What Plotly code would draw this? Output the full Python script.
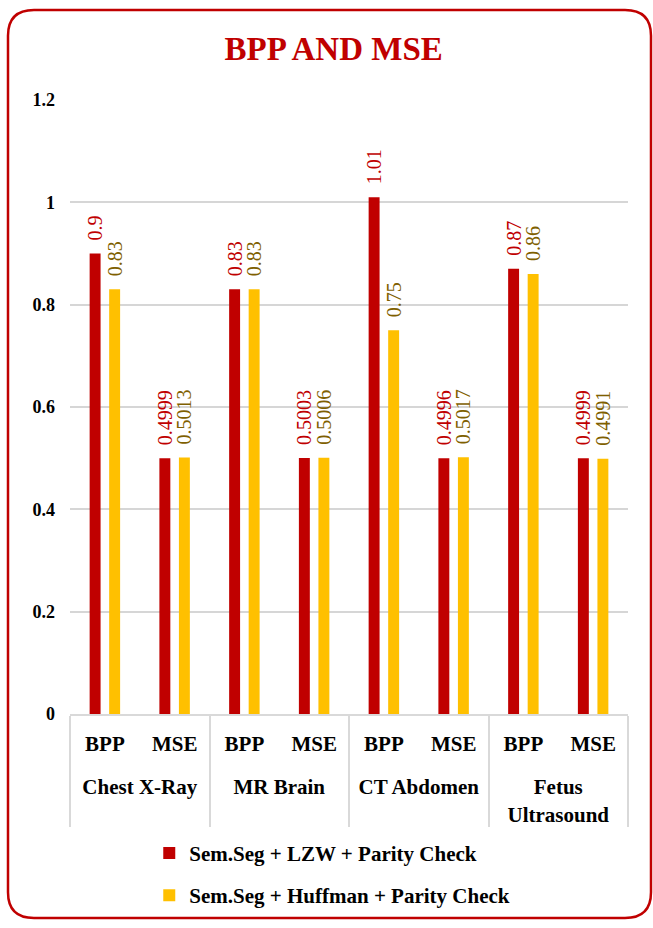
import plotly.graph_objects as go

# Grouped categories: imaging modality -> metric
modalities = ["Chest X-Ray", "MR Brain", "CT Abdomen", "Fetus<br>Ultrasound"]
metrics = ["BPP", "MSE"]

lzw_values = [0.9, 0.4999, 0.83, 0.5003, 1.01, 0.4996, 0.87, 0.4999]
huffman_values = [0.83, 0.5013, 0.83, 0.5006, 0.75, 0.5017, 0.86, 0.4991]

series_names = ["Sem.Seg + LZW + Parity Check", "Sem.Seg + Huffman + Parity Check"]

y_ticks = [0, 0.2, 0.4, 0.6, 0.8, 1, 1.2]
y_tick_text = ["0", "0.2", "0.4", "0.6", "0.8", "1", "1.2"]

FONT = "Liberation Serif"
RED = "#C00000"
GOLD = "#FFC000"
RED_LABEL = "#C00000"
GOLD_LABEL = "#7F6000"
NBSP = "\u00a0"

# leading blank line pushes the group names one row below the metric names
x_outer = ["<br>" + f"<b>{m}</b>" for m in modalities for _ in metrics]
x_inner = [f"<b>{k}</b>" for _ in modalities for k in metrics]

fig = go.Figure()
for name, vals, color, lcolor in [
    (series_names[0], lzw_values, RED, RED_LABEL),
    (series_names[1], huffman_values, GOLD, GOLD_LABEL),
]:
    fig.add_trace(go.Bar(
        x=[x_outer, x_inner],
        y=vals,
        name=f"<b>{name}</b>",
        legendgroup=name,
        marker=dict(color=color, line=dict(width=0)),
        text=[NBSP * 2 + str(v) for v in vals],
        textposition="outside",
        textangle=-90,
        constraintext="none",
        cliponaxis=False,
        textfont=dict(family=FONT, size=20, color=lcolor),
    ))

# Rounded frame around the whole chart (paper coords relative to plot area)
W, H = 653, 928
L, R, T, B = 70, 25, 100, 208
pw, ph = W - L - R, H - T - B


def px(x):
    return (x - L) / pw


def py(y):
    return (H - B - y) / ph


x0, x1, y0, y1, rad = 8, 651, 9, 926, 26
frame = (
    f"M {px(x0 + rad)},{py(y0)} L {px(x1 - rad)},{py(y0)} "
    f"Q {px(x1)},{py(y0)} {px(x1)},{py(y0 + rad)} "
    f"L {px(x1)},{py(y1 - rad)} Q {px(x1)},{py(y1)} {px(x1 - rad)},{py(y1)} "
    f"L {px(x0 + rad)},{py(y1)} Q {px(x0)},{py(y1)} {px(x0)},{py(y1 - rad)} "
    f"L {px(x0)},{py(y0 + rad)} Q {px(x0)},{py(y0)} {px(x0 + rad)},{py(y0)} Z"
)
fig.add_shape(type="path", path=frame, xref="paper", yref="paper",
              line=dict(color="#C00000", width=2.5), layer="above")

fig.update_layout(
    width=W, height=H,
    margin=dict(l=L, r=R, t=T, b=B, pad=0),
    paper_bgcolor="white", plot_bgcolor="white",
    barmode="group", bargap=0.44, bargroupgap=0.44,
    title=dict(text="<b>BPP AND MSE</b>", x=0.511, xanchor="center",
               y=1 - 48 / H, yanchor="middle", yref="container",
               font=dict(family=FONT, size=33, color=RED)),
    font=dict(family=FONT, size=18, color="#000000"),
    showlegend=True,
    legend=dict(orientation="v", x=0.47, xanchor="center", y=py(840), yanchor="top",
                traceorder="grouped", tracegroupgap=12,
                font=dict(family=FONT, size=21, color="#000000"),
                bgcolor="rgba(0,0,0,0)"),
    xaxis=dict(type="multicategory", showgrid=False,
               showline=True, linecolor="#D9D9D9", linewidth=1.5,
               showdividers=True, dividercolor="#D9D9D9", dividerwidth=1.5,
               ticks="", ticklabelstandoff=10,
               tickfont=dict(family=FONT, size=21, color="#000000")),
    yaxis=dict(range=[0, 1.2], tickvals=y_ticks, ticktext=[f"<b>{t}</b>" for t in y_tick_text],
               showgrid=True, gridcolor="#D6D6D6", gridwidth=2,
               zeroline=False, showline=False, ticks="", ticklabelstandoff=14,
               tickfont=dict(family=FONT, size=18, color="#000000")),
)

fig.write_html("out.html")
